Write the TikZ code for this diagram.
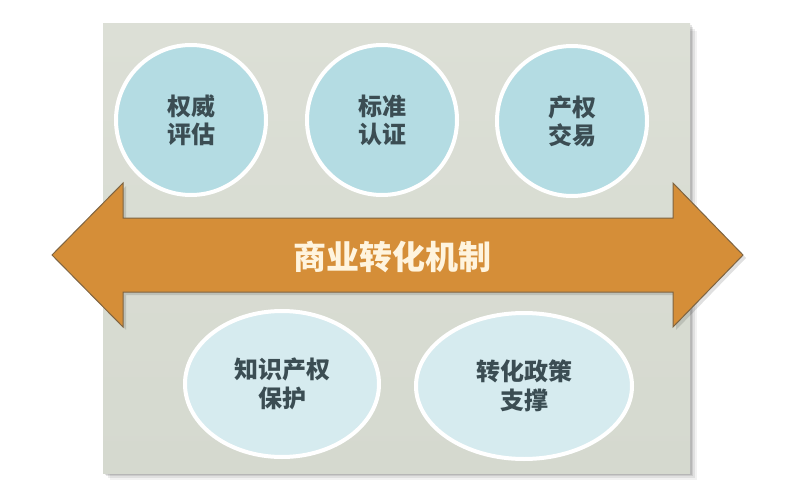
\documentclass[tikz,border=0pt]{standalone}
\usepackage{fontspec}
\newfontfamily\cjk{Noto Sans CJK SC}
\usetikzlibrary{shapes.geometric}
\definecolor{bgpanel}{HTML}{D5D9CF}
\definecolor{bgpaneltop}{HTML}{DCDFD6}
\definecolor{topfill}{HTML}{B4DCE3}
\definecolor{botfill}{HTML}{D6EBEF}
\definecolor{txtdark}{HTML}{3B4D53}
\definecolor{arrowfill}{HTML}{D58E38}
\definecolor{arrowedge}{HTML}{7E6442}
\definecolor{arrowtxt}{HTML}{FFF4DE}
\tikzset{
  topcircle/.style={circle, minimum size=150pt, inner sep=0pt, fill=topfill, draw=white, line width=4pt,
    font=\cjk\bfseries\fontsize{24}{28}\selectfont, text=txtdark, align=center},
  botellipse/.style={ellipse, inner sep=0pt, fill=botfill, draw=white, line width=4pt,
    font=\cjk\bfseries\fontsize{24}{29}\selectfont, text=txtdark, align=center},
  arrowshape/.style={fill=arrowfill, draw=arrowedge, line width=1pt, line join=miter},
  arrowlabel/.style={font=\cjk\bfseries\fontsize{33}{38}\selectfont, text=arrowtxt}
}
\begin{document}
\begin{tikzpicture}[x=1pt,y=-1pt]
\useasboundingbox (0,0) rectangle (800,500);
\fill[white] (0,0) rectangle (800,500);
% panel shadow
\foreach \d/\o in {7/0.05,5/0.07,3/0.09,1.5/0.1}{
  \fill[black,opacity=\o] (103+\d,24+\d) rectangle (690+\d,473+\d);
}
\shade[top color=bgpaneltop, bottom color=bgpanel] (103,24) rectangle (690,473);
% double arrow
\fill[black,opacity=0.12] (55,258) -- (126,186) -- (126,221) -- (676,221) -- (676,186) -- (746,258) -- (676,330) -- (676,295) -- (126,295) -- (126,330) -- cycle;
\draw[arrowshape] (52,255) -- (123,183) -- (123,218) -- (673,218) -- (673,183) -- (743,255) -- (673,327) -- (673,292) -- (123,292) -- (123,327) -- cycle;
\node[arrowlabel] (mech) at (392,257) {商业转化机制};
% top circles
\node[topcircle] (c1) at (191,120) {权威\\评估};
\node[topcircle] (c2) at (382,120) {标准\\认证};
\node[topcircle] (c3) at (572,121) {产权\\交易};
% bottom ellipses
\node[botellipse, minimum width=194pt, minimum height=146pt] (e1) at (282,384) {知识产权\\保护};
\node[botellipse, minimum width=216pt, minimum height=146pt] (e2) at (524,386) {转化政策\\支撑};
\end{tikzpicture}
\end{document}
